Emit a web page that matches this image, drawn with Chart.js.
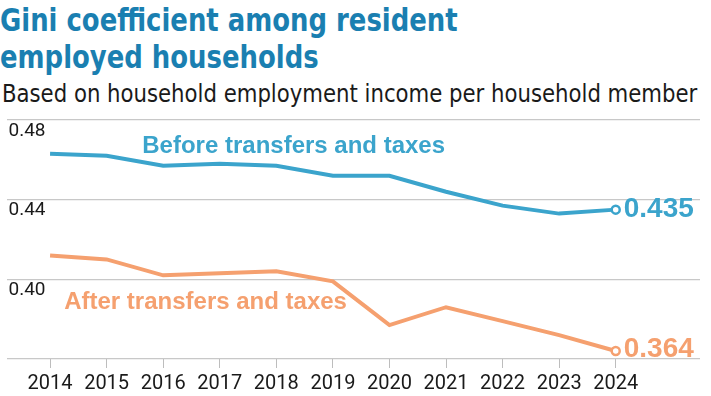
<!DOCTYPE html>
<html><head><meta charset="utf-8">
<script src="https://cdn.jsdelivr.net/npm/chart.js@4"></script>
<style>
html,body{margin:0;padding:0;background:#fff;width:711px;height:396px;overflow:hidden;}
#t{position:absolute;left:0px;top:2px;font-family:"DejaVu Sans Condensed",Roboto,sans-serif;font-weight:bold;font-size:32px;line-height:37px;color:#1a7fb1;transform:scaleX(0.9);transform-origin:0 0;white-space:nowrap;}
#s{position:absolute;left:2px;top:80px;font-family:"DejaVu Sans Condensed",Roboto,sans-serif;font-size:24px;line-height:28px;color:#1a1a1a;white-space:nowrap;transform:scaleX(0.983);transform-origin:0 0;}
#c{position:absolute;left:0;top:0;}
</style></head><body>
<div id="t">Gini coefficient among resident<br>employed households</div>
<div id="s">Based on household employment income per household member</div>
<canvas id="c" width="711" height="396"></canvas>
<script>
const years = [2014,2015,2016,2017,2018,2019,2020,2021,2022,2023,2024];
const beforeTaxes = [0.463,0.462,0.457,0.458,0.457,0.452,0.452,0.444,0.437,0.433,0.435];
const afterTaxes = [0.412,0.410,0.402,0.403,0.404,0.399,0.377,0.386,0.379,0.372,0.364];
const yTicks = [0.36,0.40,0.44,0.48];
const blue = '#3ba4cc', orange = '#f5a06f';

const pts = arr => arr.map((v,i)=>({x:years[i],y:v}));
const radii = arr => arr.map((v,i)=> i===arr.length-1 ? 4 : 0);

const labelsPlugin = {
  id:'labels',
  afterDatasetsDraw(chart){
    const {ctx, scales:{x,y}} = chart;
    ctx.save();
    ctx.textBaseline='middle';
    ctx.font='bold 24px "Liberation Sans", Arial, sans-serif';
    ctx.fillStyle=blue; ctx.textAlign='left';
    ctx.fillText('Before transfers and taxes', x.getPixelForValue(2015.63), y.getPixelForValue(0.4669));
    ctx.fillStyle=orange;
    ctx.fillText('After transfers and taxes', x.getPixelForValue(2014.25), y.getPixelForValue(0.3885));
    ctx.font='bold 28px "Liberation Sans", Arial, sans-serif';
    const last = years.length-1;
    ctx.fillStyle=blue;
    ctx.fillText(beforeTaxes[last].toFixed(3), x.getPixelForValue(years[last])+8, y.getPixelForValue(beforeTaxes[last]));
    ctx.fillStyle=orange;
    ctx.fillText(afterTaxes[last].toFixed(3), x.getPixelForValue(years[last])+8, y.getPixelForValue(afterTaxes[last])-2);
    ctx.restore();
  }
};

new Chart(document.getElementById('c'), {
  type:'line',
  data:{datasets:[
    {data:pts(beforeTaxes), borderColor:blue, borderWidth:4, pointRadius:radii(beforeTaxes), pointBackgroundColor:'#fff', pointBorderColor:blue, pointBorderWidth:2.5, tension:0},
    {data:pts(afterTaxes), borderColor:orange, borderWidth:4, pointRadius:radii(afterTaxes), pointBackgroundColor:'#fff', pointBorderColor:orange, pointBorderWidth:2.5, tension:0}
  ]},
  options:{
    responsive:false, animation:false, devicePixelRatio:1,
    layout:{padding:{top:120,left:0,right:11,bottom:0}},
    plugins:{legend:{display:false}, tooltip:{enabled:false}},
    scales:{
      x:{type:'linear', min:2013.23, max:2025.49,
        afterBuildTicks(ax){ ax.ticks = years.map(v=>({value:v})); },
        afterFit(ax){ ax.height = 37; ax.paddingLeft = 0; ax.paddingRight = 0; },
        grid:{drawOnChartArea:false, drawTicks:true, tickLength:9, color:'#bdbdbd'},
        border:{display:false},
        ticks:{font:{family:'Roboto, sans-serif', size:20}, color:'#1a1a1a', padding:4, maxRotation:0, callback:v=>String(v)}
      },
      y:{type:'linear', min:0.36, max:0.48,
        afterBuildTicks(ax){ ax.ticks = yTicks.map(v=>({value:v})); },
        afterFit(ax){ ax.width = 0; ax.paddingTop = 0; ax.paddingBottom = 0; },
        grid:{color:'#c8c8c8', lineWidth:1.2, drawTicks:false},
        border:{display:false},
        ticks:{mirror:true, labelOffset:11, padding:2, font:{family:'Roboto, sans-serif', size:19}, color:'#1a1a1a',
          callback:v=> v===0.36 ? '' : v.toFixed(2)}
      }
    }
  },
  plugins:[labelsPlugin]
});
</script>
</body></html>
